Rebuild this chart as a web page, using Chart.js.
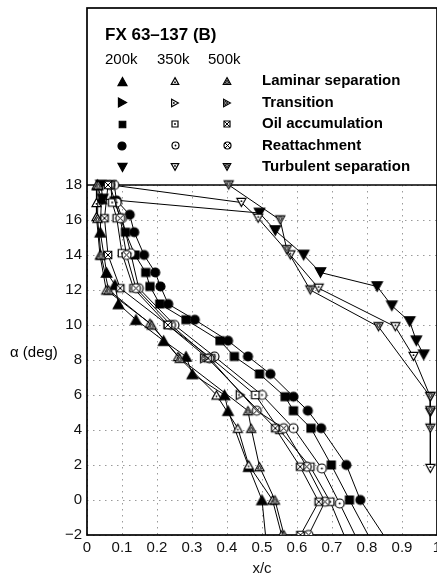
<!DOCTYPE html>
<html><head><meta charset="utf-8">
<script src="https://cdn.jsdelivr.net/npm/chart.js@4.4.1/dist/chart.umd.min.js"></script>
<style>html,body{margin:0;padding:0;background:#fff;overflow:hidden}canvas{display:block}</style>
</head><body>
<canvas id="c" width="437" height="580"></canvas>
<script>
// ---------- text ----------
const chartTitle = 'FX 63–137 (B)';
const reLabels = ['200k', '350k', '500k'];
const eventLabels = ['Laminar separation', 'Transition', 'Oil accumulation', 'Reattachment', 'Turbulent separation'];
const xTitle = 'x/c';
const yTitle = 'α (deg)';
const xTicks = [0, 0.1, 0.2, 0.3, 0.4, 0.5, 0.6, 0.7, 0.8, 0.9, 1];
const yTicks = [-2, 0, 2, 4, 6, 8, 10, 12, 14, 16, 18];

// ---------- data: [x/c, alpha] ----------
const lamSep200 = [[0.030,18],[0.041,17.2],[0.038,15.3],[0.056,13.0],[0.080,12.3],[0.090,11.2],[0.140,10.3],[0.219,9.1],[0.283,8.2],[0.301,7.2],[0.393,6.0],[0.403,5.1],[0.462,1.9],[0.500,0.0],[0.515,-3]];
const lamSep350 = [[0.028,18],[0.027,17.0],[0.027,16.2],[0.037,14.0],[0.055,12.0],[0.180,10.1],[0.260,8.2],[0.370,6.0],[0.431,4.1],[0.462,2.0],[0.530,0.0],[0.556,-2.0]];
const lamSep500 = [[0.032,18],[0.030,16.1],[0.040,14.0],[0.062,12.0],[0.185,10.0],[0.265,8.1],[0.460,5.1],[0.469,4.1],[0.493,1.9],[0.537,0.0],[0.563,-2.0]];
const trans200 = [];
const trans350 = [[0.438,6.0]];
const trans500 = [[0.336,8.1]];
const oil200 = [[0.078,17.1],[0.110,15.3],[0.137,14.0],[0.168,13.0],[0.180,12.2],[0.208,11.2],[0.283,10.3],[0.380,9.1],[0.421,8.2],[0.493,7.2],[0.566,5.9],[0.590,5.1],[0.640,4.1],[0.698,2.0],[0.750,0.0],[0.830,-3]];
const oil350 = [[0.068,18],[0.072,17.0],[0.085,16.1],[0.100,14.1],[0.133,12.1],[0.231,10.0],[0.355,8.1],[0.481,6.0],[0.550,4.0],[0.638,1.9],[0.695,-0.1],[0.755,-3]];
const oil500 = [[0.060,18],[0.050,16.1],[0.060,14.0],[0.095,12.1],[0.231,10.0],[0.345,8.1],[0.538,4.1],[0.609,1.9],[0.662,-0.1],[0.610,-2.0]];
const reatt200 = [[0.085,17.1],[0.122,16.3],[0.135,15.3],[0.163,14.0],[0.195,13.0],[0.210,12.2],[0.232,11.2],[0.308,10.3],[0.403,9.1],[0.460,8.2],[0.524,7.2],[0.590,5.9],[0.631,5.1],[0.669,4.1],[0.741,2.0],[0.781,0.0],[0.880,-3]];
const reatt350 = [[0.078,18],[0.085,17.0],[0.100,16.1],[0.125,14.1],[0.148,12.1],[0.250,10.0],[0.364,8.2],[0.500,6.0],[0.590,4.1],[0.671,1.8],[0.722,-0.2],[0.790,-3]];
const reatt500 = [[0.065,18],[0.095,16.1],[0.113,14.0],[0.140,12.1],[0.240,10.0],[0.350,8.1],[0.485,5.1],[0.562,4.1],[0.628,1.9],[0.680,-0.1],[0.633,-2.0]];
const turbSep200 = [[0.040,18],[0.045,17.2],[0.493,16.4],[0.538,15.4],[0.619,14.0],[0.667,13.0],[0.829,12.2],[0.871,11.1],[0.922,10.2],[0.941,9.1],[0.962,8.3]];
const turbSep350 = [[0.070,18],[0.441,17.0],[0.489,16.1],[0.581,14.0],[0.662,12.1],[0.881,9.9],[0.933,8.2],[0.981,5.9],[0.981,5.0],[0.981,1.8]];
const turbSep500 = [[0.405,18],[0.552,16.0],[0.571,14.3],[0.638,12.0],[0.833,9.9],[0.981,5.9],[0.981,5.1],[0.981,4.1]];

const seriesTable = [
  [lamSep200, lamSep350, lamSep500],
  [trans200, trans350, trans500],
  [oil200, oil350, oil500],
  [reatt200, reatt350, reatt500],
  [turbSep200, turbSep350, turbSep500]
];

// ---------- styles ----------
const FONT = "'Liberation Sans', Arial, Helvetica, sans-serif";
const shapes = ['up', 'right', 'square', 'circle', 'down'];
const modes = ['filled', 'dot', 'cross'];

function makeMarker(shape, mode, size) {
  const W = Math.ceil(size) + 4;
  const c = document.createElement('canvas');
  c.width = W; c.height = W;
  const g = c.getContext('2d');
  const cx = W / 2, cy = W / 2, h = size / 2, t = size * 0.45;
  g.lineWidth = 1.2; g.strokeStyle = '#000';
  g.fillStyle = mode === 'filled' ? '#000' : '#fff';
  let pts = null, cen = [cx, cy];
  g.beginPath();
  if (shape === 'up') pts = [[cx, cy - t], [cx + h, cy + t], [cx - h, cy + t]];
  else if (shape === 'down') pts = [[cx, cy + t], [cx + h, cy - t], [cx - h, cy - t]];
  else if (shape === 'right') pts = [[cx + t, cy], [cx - t, cy - h], [cx - t, cy + h]];
  if (pts) {
    g.moveTo(pts[0][0], pts[0][1]); g.lineTo(pts[1][0], pts[1][1]); g.lineTo(pts[2][0], pts[2][1]); g.closePath();
    cen = [(pts[0][0] + pts[1][0] + pts[2][0]) / 3, (pts[0][1] + pts[1][1] + pts[2][1]) / 3];
  } else if (shape === 'square') {
    g.rect(cx - h, cy - h, size, size);
  } else {
    g.arc(cx, cy, h, 0, Math.PI * 2);
  }
  g.fill(); g.stroke();
  g.lineWidth = 1;
  if (mode === 'dot') {
    g.beginPath(); g.fillStyle = '#000';
    g.arc(cen[0], cen[1], 0.9, 0, Math.PI * 2); g.fill();
  } else if (mode === 'cross') {
    g.beginPath();
    if (pts) {
      const k = 0.45;
      const inn = pts.map(p => [cen[0] + (p[0] - cen[0]) * k, cen[1] + (p[1] - cen[1]) * k]);
      g.moveTo(inn[0][0], inn[0][1]); g.lineTo(inn[1][0], inn[1][1]); g.lineTo(inn[2][0], inn[2][1]); g.closePath();
    } else if (shape === 'square') {
      g.moveTo(cx - h, cy - h); g.lineTo(cx + h, cy + h);
      g.moveTo(cx + h, cy - h); g.lineTo(cx - h, cy + h);
    } else {
      const d = h * 0.707;
      g.moveTo(cx - d, cy - d); g.lineTo(cx + d, cy + d);
      g.moveTo(cx + d, cy - d); g.lineTo(cx - d, cy + d);
    }
    g.stroke();
  }
  return c;
}

function dataSize(shape, mode) {
  if (shape === 'square') return mode === 'filled' ? 8 : 7.5;
  if (shape === 'circle') return 9;
  return mode === 'filled' ? 10.5 : 9;
}
function legendSize(shape, mode) {
  if (shape === 'square') return mode === 'filled' ? 6.5 : 6;
  if (shape === 'circle') return mode === 'filled' ? 8 : 7;
  return mode === 'filled' ? 9 : 7.5;
}

const datasets = [];
seriesTable.forEach((row, e) => {
  row.forEach((arr, r) => {
    datasets.push({
      label: eventLabels[e] + ' ' + reLabels[r],
      data: arr.map(p => ({ x: p[0], y: p[1] })),
      showLine: e !== 1,
      borderColor: '#000',
      borderWidth: 1,
      pointStyle: makeMarker(shapes[e], modes[r], dataSize(shapes[e], modes[r])),
      pointRadius: 5,
      order: 3 - r,
      clip: { left: false, top: false, right: false, bottom: 0 }
    });
  });
});

const legendMarkers = shapes.map(s => modes.map(m => makeMarker(s, m, legendSize(s, m))));

const framePlugin = {
  id: 'frame',
  beforeDatasetsDraw(chart) {
    const ctx = chart.ctx, a = chart.chartArea;
    ctx.save();
    ctx.strokeStyle = '#000';
    ctx.lineWidth = 1.7;
    ctx.strokeRect(a.left, 8, a.right - a.left, a.bottom - 8);
    ctx.beginPath(); ctx.moveTo(a.left, a.top); ctx.lineTo(a.right, a.top); ctx.stroke();

    ctx.fillStyle = '#000';
    ctx.textBaseline = 'middle';
    ctx.textAlign = 'left';
    ctx.font = 'bold 17px ' + FONT;
    ctx.fillText(chartTitle, 105, 35);
    ctx.font = '15px ' + FONT;
    const hx = [105, 157, 208];
    reLabels.forEach((t, i) => ctx.fillText(t, hx[i], 60));
    const mx = [122, 175, 227];
    const ry = [81, 102.5, 124, 145.5, 167];
    ctx.font = 'bold 15px ' + FONT;
    eventLabels.forEach((t, e) => {
      legendMarkers[e].forEach((img, r) => {
        ctx.drawImage(img, Math.round(mx[r] - img.width / 2), Math.round(ry[e] - img.height / 2));
      });
      ctx.fillText(t, 262, ry[e]);
    });
    ctx.font = '15px ' + FONT;
    ctx.fillText(yTitle, 10, 353);
    ctx.restore();
  }
};

new Chart(document.getElementById('c'), {
  type: 'scatter',
  data: { datasets },
  options: {
    responsive: false,
    devicePixelRatio: 1,
    animation: false,
    events: [],
    layout: { autoPadding: false, padding: { top: 185, left: 0, right: 0, bottom: 3.5 } },
    plugins: { legend: { display: false }, tooltip: { enabled: false } },
    scales: {
      x: {
        type: 'linear', min: 0, max: 1,
        afterBuildTicks: s => { s.ticks = xTicks.map(v => ({ value: v })); },
        afterFit: s => { s.paddingLeft = 0; s.paddingRight = 0; },
        ticks: { font: { family: FONT, size: 15 }, color: '#111', padding: 4, maxRotation: 0, autoSkip: false,
                 callback: v => String(v).replace('-', '\u2212') },
        grid: { color: '#9a9a9a', lineWidth: 1, drawTicks: false },
        border: { display: false, dash: [1.5, 4.5] },
        title: { display: true, text: xTitle, color: '#111', font: { family: FONT, size: 15, lineHeight: 1 }, padding: { top: 0.5, bottom: 0 } }
      },
      y: {
        type: 'linear', min: -2, max: 18,
        afterBuildTicks: s => { s.ticks = yTicks.map(v => ({ value: v })); },
        afterFit: s => { s.width = 87; s.paddingTop = 0; s.paddingBottom = 0; },
        ticks: { font: { family: FONT, size: 15 }, color: '#111', padding: 5, autoSkip: false,
                 callback: v => String(v).replace('-', '\u2212') },
        grid: { color: '#9a9a9a', lineWidth: 1, drawTicks: false },
        border: { display: false, dash: [1.5, 4.5] }
      }
    }
  },
  plugins: [framePlugin]
});
</script>
</body></html>
